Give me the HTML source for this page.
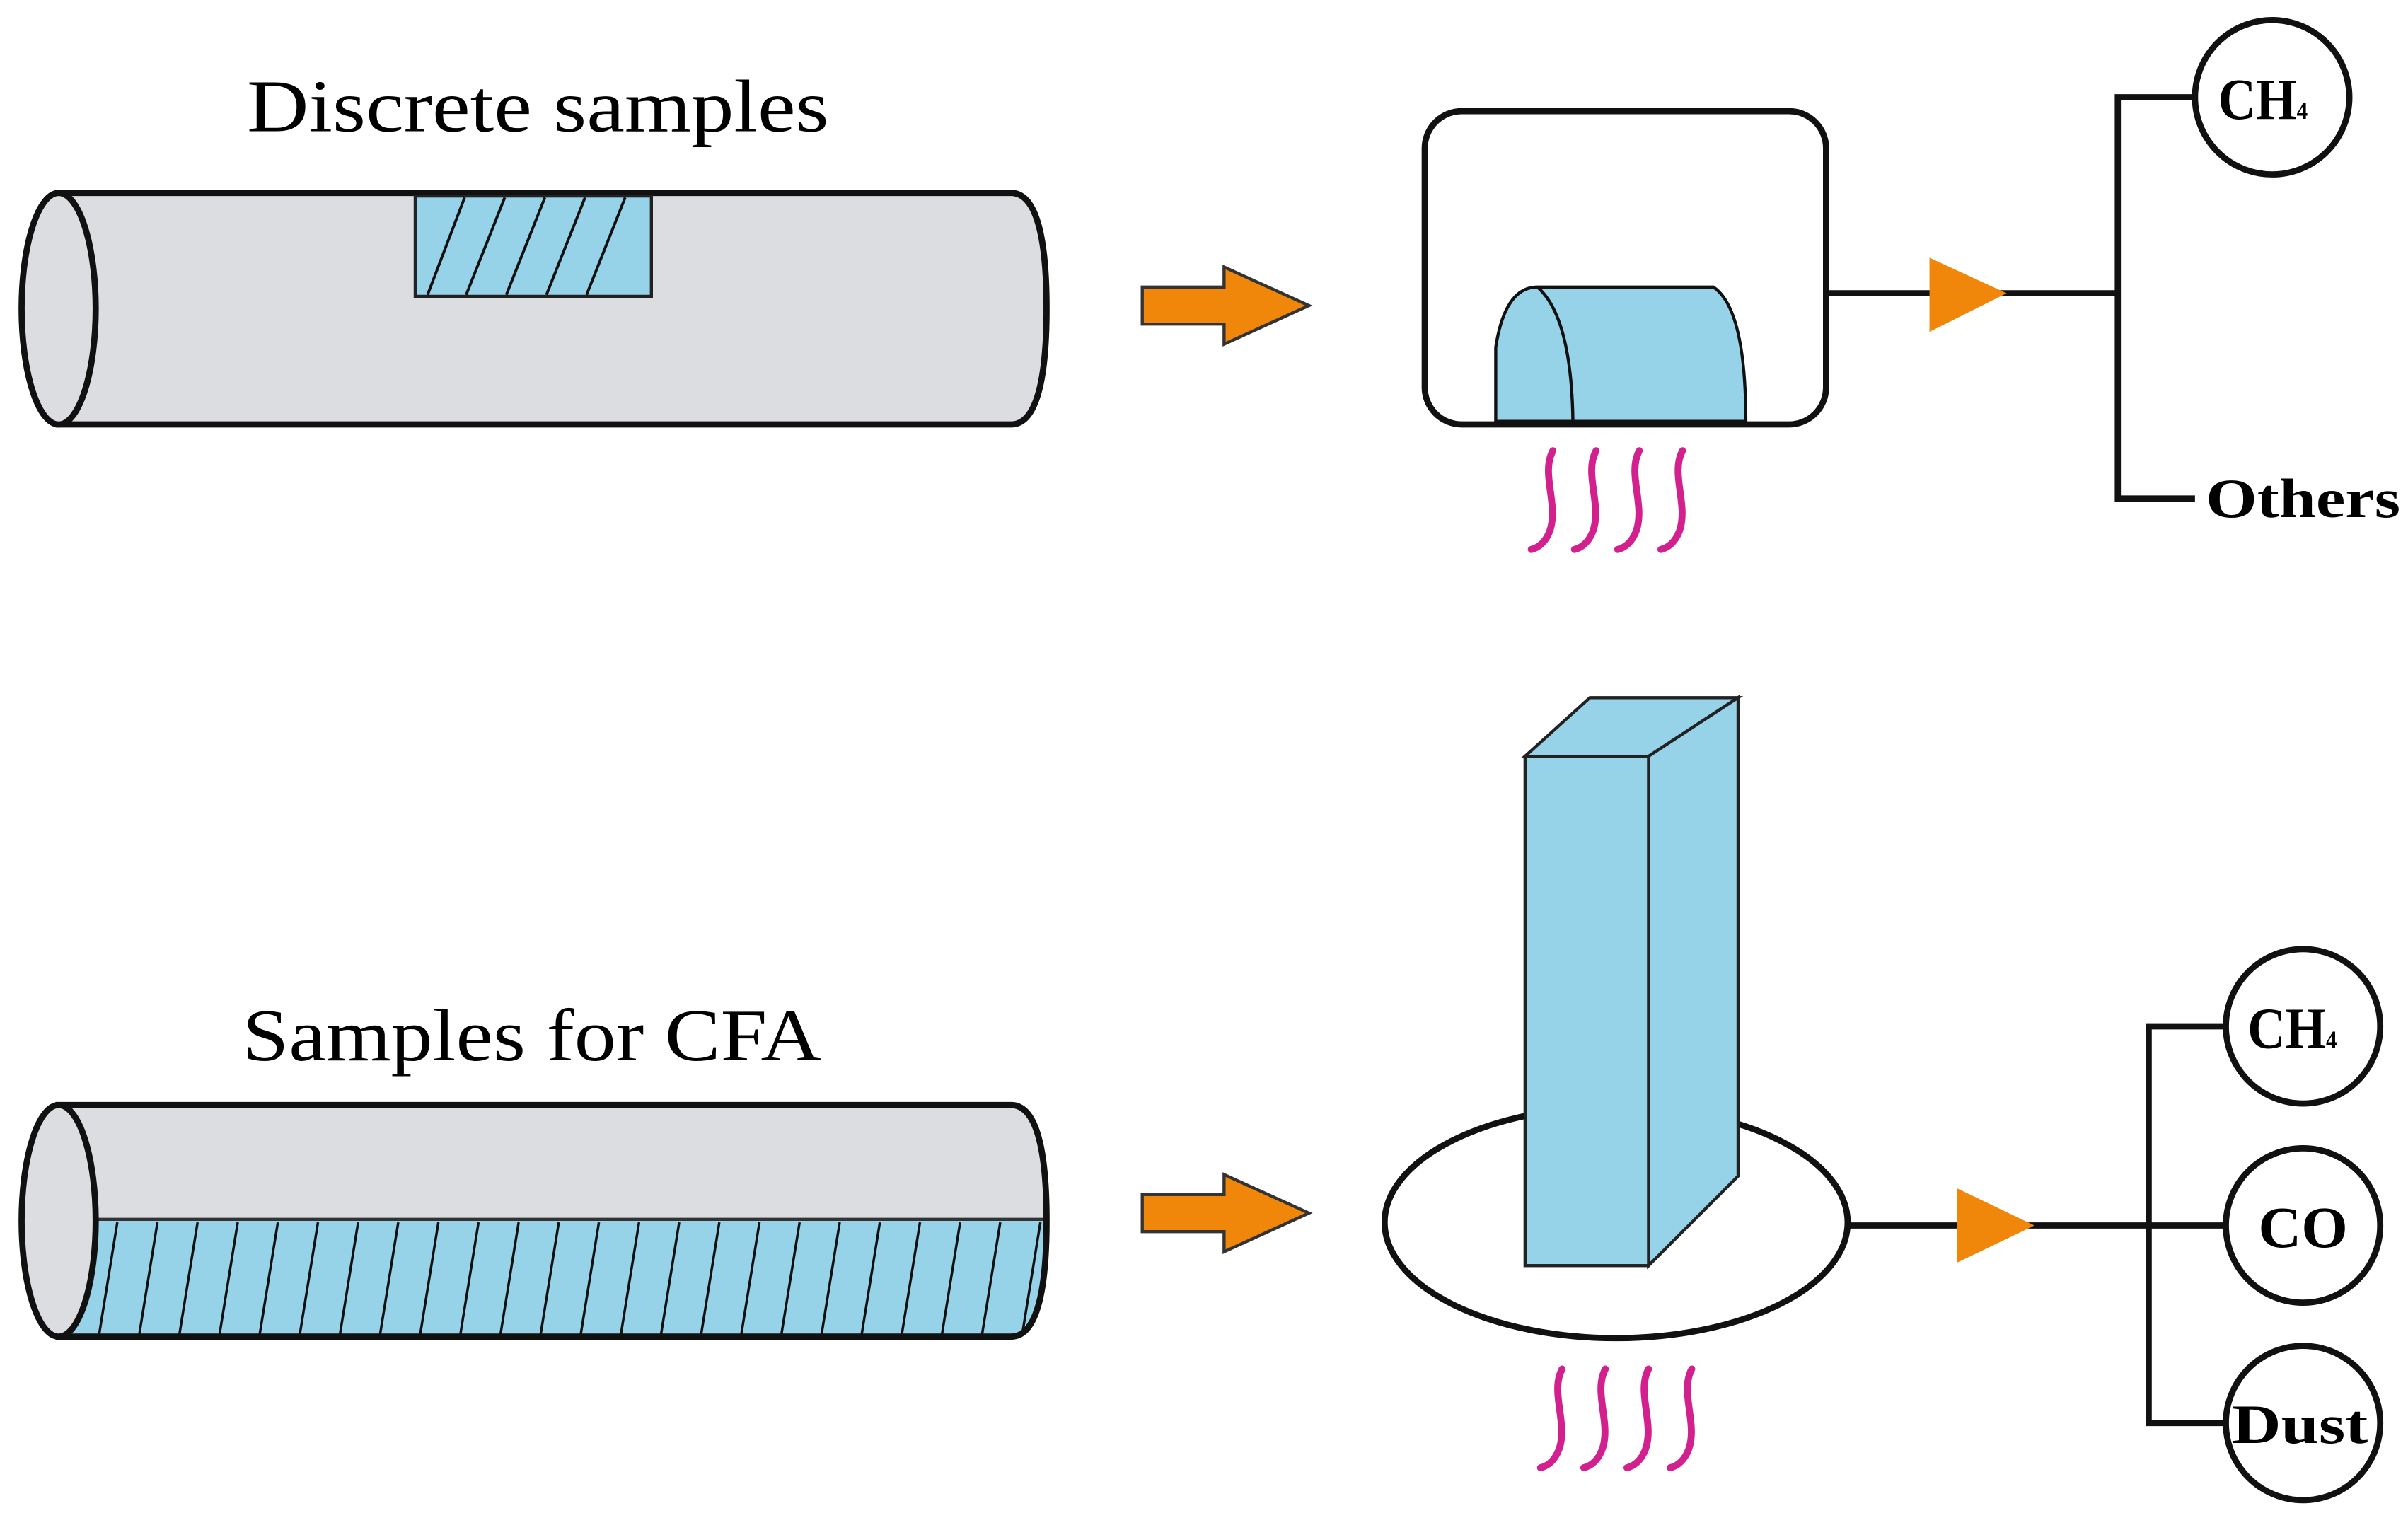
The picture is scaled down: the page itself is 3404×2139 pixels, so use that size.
<!DOCTYPE html>
<html><head><meta charset="utf-8"><style>
html,body{margin:0;padding:0;background:#fff}
svg{display:block}
text{font-family:"Liberation Serif",serif}
</style></head><body>
<svg width="3404" height="2139" viewBox="0 0 1560 980.3" preserveAspectRatio="none" xmlns="http://www.w3.org/2000/svg">
<defs>
<g id="heat" fill="none" stroke="#d2208f" stroke-width="4.5" stroke-linecap="round">
<path d="M10,0 C2,15 14,35 8,52 C5,60 0,63 -4,64"/>
<path d="M38,0 C30,15 42,35 36,52 C33,60 28,63 24,64"/>
<path d="M66,0 C58,15 70,35 64,52 C61,60 56,63 52,64"/>
<path d="M94,0 C86,15 98,35 92,52 C89,60 84,63 80,64"/>
</g>
<g id="arrow"><polygon points="0,-12 53,-12 53,-25 108,0 53,25 53,12 0,12" fill="#f0860a" stroke="#333" stroke-width="2"/></g>
<clipPath id="cyl2"><path d="M38,716 L655,716 Q678,716 678,791 Q678,866 655,866 L38,866 Z"/></clipPath>
</defs>

<text x="160" y="85" font-size="48" textLength="377" lengthAdjust="spacingAndGlyphs">Discrete samples</text>
<text x="157" y="687" font-size="48" textLength="375" lengthAdjust="spacingAndGlyphs">Samples for CFA</text>

<path d="M38,125 L655,125 Q678,125 678,200 Q678,275 655,275 L38,275 Z" fill="#dcdde0" stroke="#111" stroke-width="4"/>
<ellipse cx="38" cy="200" rx="24" ry="75" fill="#dcdde0" stroke="#111" stroke-width="4"/>
<rect x="269" y="127" width="153" height="65" fill="#96d2e8" stroke="#222" stroke-width="2"/>
<g stroke="#111" stroke-width="1.8">
<line x1="301" y1="128" x2="277" y2="191"/><line x1="327" y1="128" x2="302" y2="191"/>
<line x1="353" y1="128" x2="328" y2="191"/><line x1="379" y1="128" x2="354" y2="191"/>
<line x1="405" y1="128" x2="380" y2="191"/>
</g>

<path d="M38,716 L655,716 Q678,716 678,791 Q678,866 655,866 L38,866 Z" fill="#dcdde0"/>
<g clip-path="url(#cyl2)">
<rect x="40" y="790" width="640" height="76" fill="#96d2e8"/>
<line x1="40" y1="790" x2="680" y2="790" stroke="#333" stroke-width="2"/>
<g stroke="#111" stroke-width="1.6">
<line x1="76" y1="792" x2="64" y2="866"/><line x1="102" y1="792" x2="90" y2="866"/><line x1="128" y1="792" x2="116" y2="866"/><line x1="154" y1="792" x2="142" y2="866"/><line x1="180" y1="792" x2="168" y2="866"/><line x1="206" y1="792" x2="194" y2="866"/><line x1="232" y1="792" x2="220" y2="866"/><line x1="258" y1="792" x2="246" y2="866"/><line x1="284" y1="792" x2="272" y2="866"/><line x1="310" y1="792" x2="298" y2="866"/><line x1="336" y1="792" x2="324" y2="866"/><line x1="362" y1="792" x2="350" y2="866"/><line x1="388" y1="792" x2="376" y2="866"/><line x1="414" y1="792" x2="402" y2="866"/><line x1="440" y1="792" x2="428" y2="866"/><line x1="466" y1="792" x2="454" y2="866"/><line x1="492" y1="792" x2="480" y2="866"/><line x1="518" y1="792" x2="506" y2="866"/><line x1="544" y1="792" x2="532" y2="866"/><line x1="570" y1="792" x2="558" y2="866"/><line x1="596" y1="792" x2="584" y2="866"/><line x1="622" y1="792" x2="610" y2="866"/><line x1="648" y1="792" x2="636" y2="866"/><line x1="674" y1="792" x2="662" y2="866"/>
</g>
</g>
<path d="M38,716 L655,716 Q678,716 678,791 Q678,866 655,866 L38,866 Z" fill="none" stroke="#111" stroke-width="4"/>
<ellipse cx="38" cy="791" rx="24" ry="75" fill="#dcdde0" stroke="#111" stroke-width="4"/>

<use href="#arrow" x="740" y="198"/>
<use href="#arrow" x="740" y="786"/>

<rect x="923" y="72" width="260" height="203" rx="24" fill="#fff" stroke="#111" stroke-width="4"/>
<path d="M969,273 L969,225 Q975,186 996,186 L1110,186 Q1131,200 1131,273 Z" fill="#96d2e8" stroke="#111" stroke-width="2"/>
<path d="M996,186 Q1018,205 1019,273" fill="none" stroke="#111" stroke-width="2"/>
<use href="#heat" x="996" y="292"/>

<g stroke="#111" stroke-width="4" fill="none">
<line x1="1183" y1="190" x2="1372" y2="190"/>
<polyline points="1422,63 1372,63 1372,323 1422,323"/>
</g>
<polygon points="1250,167 1300,190 1250,215" fill="#f0860a"/>
<circle cx="1472" cy="63" r="50" fill="#fff" stroke="#111" stroke-width="4"/>
<text x="1437" y="77" font-size="38" font-weight="bold" textLength="58" lengthAdjust="spacingAndGlyphs">CH<tspan font-size="16">4</tspan></text>
<text x="1429" y="335" font-size="36" font-weight="bold" textLength="126" lengthAdjust="spacingAndGlyphs">Others</text>

<ellipse cx="1047" cy="792" rx="150" ry="75" fill="#fff" stroke="#111" stroke-width="4"/>
<polygon points="988,490 1030,452 1126,452 1068,490" fill="#96d2e8" stroke="#222" stroke-width="2"/>
<polygon points="1068,490 1126,452 1126,762 1068,820" fill="#96d2e8" stroke="#222" stroke-width="2"/>
<rect x="988" y="490" width="80" height="330" fill="#96d2e8" stroke="#222" stroke-width="2"/>
<use href="#heat" x="1002" y="887"/>

<g stroke="#111" stroke-width="4" fill="none">
<line x1="1197" y1="794" x2="1442" y2="794"/>
<polyline points="1442,665 1392,665 1392,922 1442,922"/>
</g>
<polygon points="1268,770 1318,794 1268,818" fill="#f0860a"/>
<circle cx="1492" cy="665" r="50" fill="#fff" stroke="#111" stroke-width="4"/>
<circle cx="1492" cy="794" r="50" fill="#fff" stroke="#111" stroke-width="4"/>
<circle cx="1492" cy="922" r="50" fill="#fff" stroke="#111" stroke-width="4"/>
<text x="1456" y="679" font-size="38" font-weight="bold" textLength="58" lengthAdjust="spacingAndGlyphs">CH<tspan font-size="16">4</tspan></text>
<text x="1463" y="808" font-size="38" font-weight="bold" textLength="58" lengthAdjust="spacingAndGlyphs">CO</text>
<text x="1446" y="935" font-size="36" font-weight="bold" textLength="88" lengthAdjust="spacingAndGlyphs">Dust</text>
</svg>
</body></html>
